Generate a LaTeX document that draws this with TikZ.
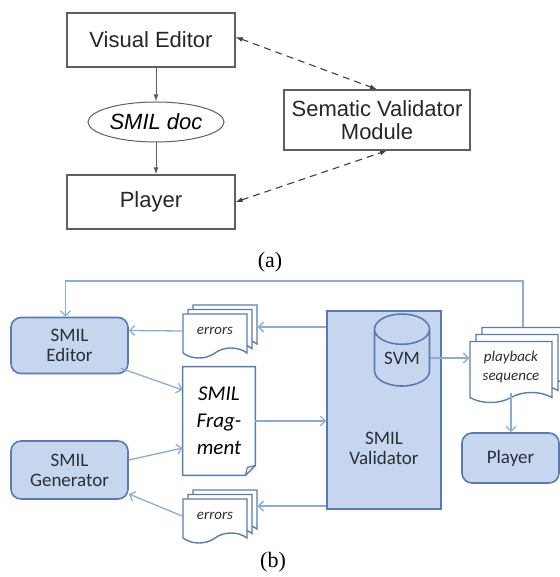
\documentclass[tikz,border=0pt]{standalone}
\usepackage{fontspec}
\setmainfont{Liberation Serif}
\newfontfamily\arialfont{Liberation Sans}
\newfontfamily\califont{Carlito}
\usetikzlibrary{arrows.meta,shapes.geometric,shapes.symbols,shadows}

\begin{document}
\begin{tikzpicture}[x=0.5pt,y=-0.5pt,
  abox/.style={draw=agray,line width=0.6pt,minimum width=84pt,minimum height=27pt,inner sep=0pt,font=\arialfont\fontsize{11}{12.5}\selectfont,text=black!85},
  aline/.style={draw=agray,line width=0.5pt,-{Latex[length=3.5pt,width=2.5pt]}},
  adash/.style={draw=black!75,line width=0.55pt,dash pattern=on 3.5pt off 2.5pt,{Latex[length=3.5pt,width=2.5pt]}-{Latex[length=3.5pt,width=2.5pt]}},
  bbox/.style={draw=bluedraw,fill=bluefill,line width=0.8pt,rounded corners=5pt,minimum width=58.5pt,minimum height=28pt,inner sep=0pt,align=center,text=bluetext,font=\califont\fontsize{9.5}{10}\selectfont},
  vbox/.style={draw=bluedraw,fill=bluefill,line width=0.8pt,minimum width=57pt,minimum height=99pt,inner sep=0pt},
  bdoc/.style={tape,tape bend top=none,tape bend height=5pt,draw=bluedraw,fill=white,line width=0.7pt,inner sep=0pt,align=center,text=bluetext,font=\califont\itshape\fontsize{7.5}{9.5}\selectfont},
  stack/.style={copy shadow={shadow xshift=5pt,shadow yshift=4.5pt},copy shadow={shadow xshift=2.5pt,shadow yshift=2.25pt}},
  pbstack/.style={copy shadow={shadow xshift=6pt,shadow yshift=7pt},copy shadow={shadow xshift=3pt,shadow yshift=3.5pt}},
  bline/.style={draw=blueline,line width=0.65pt,-{Straight Barb[length=2.5pt,width=5pt]}},
  lab/.style={font=\fontsize{11}{13}\selectfont}]

\definecolor{agray}{RGB}{95,95,95}
\definecolor{bluefill}{RGB}{197,214,238}
\definecolor{bluedraw}{RGB}{92,122,178}
\definecolor{blueline}{RGB}{140,172,214}
\definecolor{bluetext}{RGB}{45,45,55}

\useasboundingbox (0,0) rectangle (560,577);

\node[abox] (ve) at (151,40) {Visual Editor};
\node[ellipse,draw=agray,line width=0.5pt,minimum width=68pt,minimum height=20pt,inner sep=0pt,font=\arialfont\itshape\fontsize{11}{13}\selectfont] (doc) at (156,122) {SMIL doc};
\node[abox] (pla) at (151,202) {Player};
\node[abox,minimum width=93pt,minimum height=30pt,align=center,font=\arialfont\fontsize{11}{11.5}\selectfont] (svmod) at (377,120) {Sematic Validator\\Module};
\draw[aline] (ve.south -| doc.north) -- (doc.north);
\draw[aline] (doc.south) -- (pla.north -| doc.south);
\draw[adash] ([yshift=1.5pt]ve.east) -- (svmod.north);
\draw[adash] (pla.east) -- ([xshift=5pt]svmod.south);
\node[lab] (capa) at (270,262) {(a)};

\node[bbox] (ed) at (69.5,345.5) {SMIL\\Editor};
\node[bbox,minimum height=29pt] (gen) at (69.5,470) {SMIL\\Generator};
\node[vbox] (val) at (384,410) {};
\node[text=bluetext,align=center,font=\califont\fontsize{9.5}{10}\selectfont] (valtxt) at (384,448) {SMIL\\Validator};
\node[cylinder,shape border rotate=90,aspect=0.85,draw=bluedraw,fill=bluefill,line width=0.8pt,minimum width=27.5pt,minimum height=36pt,inner sep=0pt,text=bluetext,font=\califont\fontsize{9.5}{10}\selectfont] (svm) at (402,358) {SVM};
\node[bdoc,stack,minimum width=32pt,minimum height=22pt] (errT) at (215,331) {errors};
\node[bdoc,stack,minimum width=32pt,minimum height=22pt] (errB) at (215,516) {errors};
\node[inner sep=0pt,minimum width=36pt,minimum height=54pt] (frag) at (219,421) {};
\draw[draw=bluedraw,line width=0.7pt,fill=white] (frag.north west) -- (frag.north east) -- ([yshift=5pt]frag.south east) -- ([xshift=-5pt]frag.south east) -- (frag.south west) -- cycle;
\draw[draw=bluedraw,line width=0.6pt] ([yshift=5pt]frag.south east) -- ([shift={(-4pt,4pt)}]frag.south east) -- ([xshift=-5pt]frag.south east);
\node[inner sep=0pt,align=center,font=\califont\itshape\fontsize{10.5}{13.5}\selectfont] (fragtxt) at (frag) {SMIL\\Frag-\\ment};
\node[bdoc,pbstack,minimum width=41pt,minimum height=30.5pt] (pb) at (511,367) {playback\\sequence};
\node[bbox,minimum width=48.5pt,minimum height=25pt] (pl) at (510.5,458) {Player};
\node[lab] (capb) at (273,562) {(b)};

\coordinate (loop) at (0,281);
\coordinate (edin) at ([xshift=-2pt]ed.north);
\coordinate (eti) at ([xshift=5pt,yshift=2pt]errT.east);
\coordinate (ebi) at ([xshift=5pt,yshift=5pt]errB.east);
\draw[bline] ([xshift=6pt,yshift=7pt]pb.north) |- (loop -| edin) -- (edin);
\draw[bline] (val.west |- eti) -- (eti);
\draw[bline] (errT.west) -- ([yshift=7.5pt]ed.east);
\draw[bline] ([xshift=-4pt,yshift=3pt]ed.south east) -- ([yshift=15.5pt]frag.west);
\draw[bline] ([yshift=5pt]gen.east) -- ([yshift=-13.5pt]frag.west);
\draw[bline] (frag.east) -- (val.west |- frag.east);
\draw[bline] (val.west |- ebi) -- (ebi);
\draw[bline] (errB.west) -- ([yshift=-12pt]gen.east);
\draw[bline] (svm.east) -- (pb.west |- svm.east);
\draw[bline] (pb.south) -- (pl.north -| pb.south);
\end{tikzpicture}
\end{document}
